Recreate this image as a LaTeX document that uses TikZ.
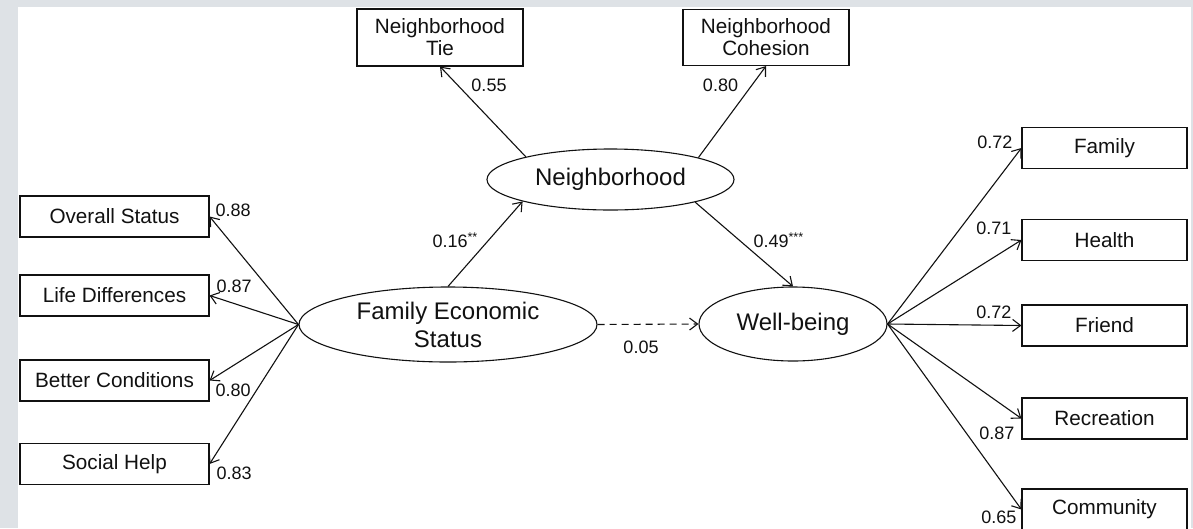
\documentclass[tikz,border=0pt]{standalone}
\usepackage{fontspec}
\setmainfont{Liberation Sans}
\usetikzlibrary{arrows.meta, shapes.geometric}
\definecolor{pagegrey}{HTML}{DEE2E6}
\definecolor{ink}{HTML}{111111}

\begin{document}
\begin{tikzpicture}[x=1pt, y=-1pt,
  line width=1.1pt, draw=ink, text=ink,
  obs/.style={draw, rectangle, inner sep=0pt, align=center,
    font=\fontsize{20.7}{22}\selectfont},
  lat/.style={draw, ellipse, inner sep=0pt, align=center,
    font=\fontsize{24}{28}\selectfont},
  load/.style={inner sep=0pt, font=\fontsize{18}{20}\selectfont},
  leftbox/.style={obs, minimum width=189, minimum height=41},
  rightbox/.style={obs, minimum width=165, minimum height=41},
  pathto/.style={-{Straight Barb[length=8pt,width=12pt]}},
  weak/.style={pathto, dash pattern=on 7pt off 5pt}
]
% page background
\fill[pagegrey] (0,0) rectangle (1193,528);
\fill[white] (18,7) rectangle (1191,528);
\useasboundingbox (0,0) rectangle (1193,528);

% latent variables
\node[lat, minimum width=247, minimum height=61] (nb) at (610.5,179.5) {Neighborhood};
\node[lat, minimum width=298, minimum height=75] (fes) at (448,324.5) {Family Economic\\Status};
\node[lat, minimum width=188, minimum height=74] (wb) at (793,324) {Well-being};

% neighborhood indicators
\node[obs, minimum width=166, minimum height=57] (tie) at (440,37.5) {Neighborhood\\Tie};
\node[obs, minimum width=166, minimum height=56] (coh) at (766,37.5) {Neighborhood\\Cohesion};

% family economic status indicators
\node[leftbox] (os) at (114.5,216.5) {Overall Status};
\node[leftbox] (ld) at (114.5,295.5) {Life Differences};
\node[leftbox] (bc) at (114.5,380.5) {Better Conditions};
\node[leftbox] (sh) at (114.5,464) {Social Help};

% well-being indicators
\node[rightbox] (fam) at (1104.5,148) {Family};
\node[rightbox] (hea) at (1104.5,240) {Health};
\node[rightbox] (fri) at (1104.5,325.5) {Friend};
\node[rightbox] (rec) at (1104.5,418.5) {Recreation};
\node[rightbox] (com) at (1104.5,509.5) {Community};

% structural paths
\draw[pathto] (fes.north) -- (nb.194.7);
\draw[pathto] (nb.345.5) -- (wb.north);
\draw[weak] (fes.east) -- (wb.west);

% measurement paths
\draw[pathto] (nb.165.6) -- (tie.south);
\draw[pathto] (nb.14.4) -- (coh.south);
\draw[pathto] (fes.west) -- (os.east);
\draw[pathto] (fes.west) -- (ld.east);
\draw[pathto] (fes.west) -- (bc.east);
\draw[pathto] (fes.west) -- (sh.east);
\draw[pathto] (wb.east) -- (fam.west);
\draw[pathto] (wb.east) -- (hea.west);
\draw[pathto] (wb.east) -- (fri.west);
\draw[pathto] (wb.east) -- (rec.west);
\draw[pathto] (wb.east) -- (com.west);

% coefficients
\node[load] (c1) at (489,85) {0.55};
\node[load] (c2) at (720.5,85) {0.80};
\node[load, anchor=west] (c3) at (432,240) {0.16\textsuperscript{**}};
\node[load, anchor=west] (c4) at (753,240) {0.49\textsuperscript{***}};
\node[load] (c5) at (641,347) {0.05};
\node[load, anchor=west] (c6) at (215,210) {0.88};
\node[load, anchor=west] (c7) at (216,286) {0.87};
\node[load, anchor=west] (c8) at (215,390) {0.80};
\node[load, anchor=west] (c9) at (216,473) {0.83};
\node[load, anchor=east] (c10) at (1013,142) {0.72};
\node[load, anchor=east] (c11) at (1012,228) {0.71};
\node[load, anchor=east] (c12) at (1012,312) {0.72};
\node[load, anchor=east] (c13) at (1015,433) {0.87};
\node[load, anchor=east] (c14) at (1017,517) {0.65};
\end{tikzpicture}
\end{document}
